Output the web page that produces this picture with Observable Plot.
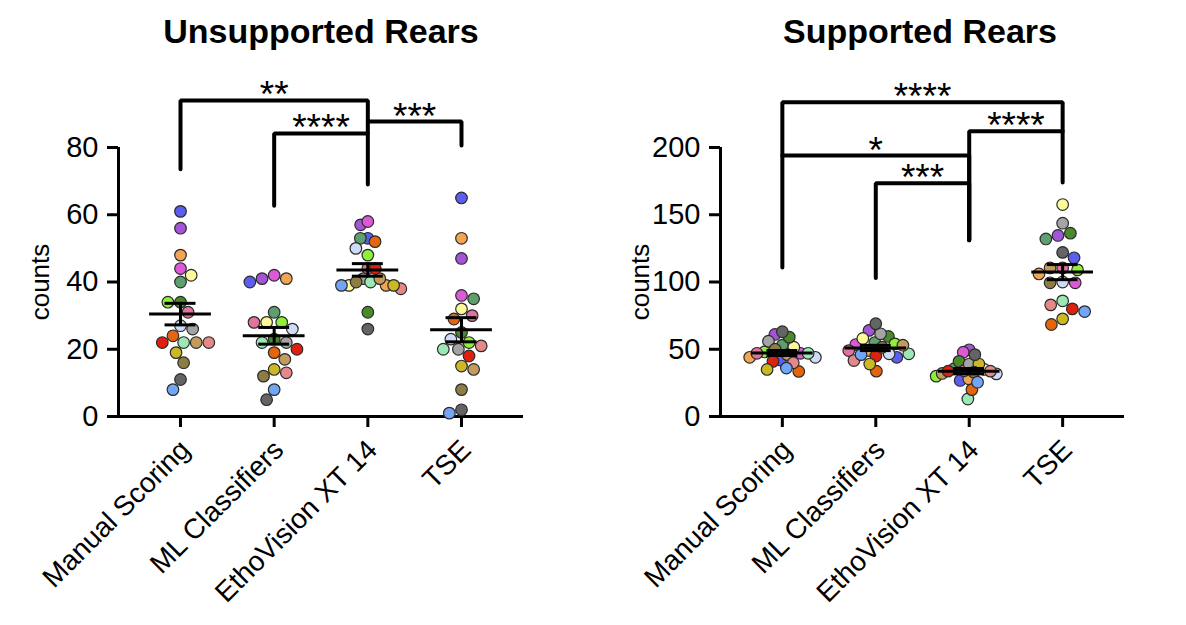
<!DOCTYPE html>
<html><head><meta charset="utf-8">
<script src="https://cdn.jsdelivr.net/npm/d3@7"></script>
<script src="https://cdn.jsdelivr.net/npm/@observablehq/plot@0.6"></script>
<style>
body{margin:0;background:#fff;font-family:"Liberation Sans",Arial,sans-serif;}
#wrap{position:relative;width:1186px;height:625px;overflow:hidden;background:#fff}
.title{position:absolute;top:11px;width:600px;text-align:center;font-weight:bold;font-size:34px;line-height:40px;color:#000}
.panel{position:absolute;top:60px}
</style></head><body>
<div id="wrap">
  <div class="title" style="left:21px">Unsupported Rears</div>
  <div class="title" style="left:620px">Supported Rears</div>
  <div class="panel" id="p1" style="left:0"></div>
  <div class="panel" id="p2" style="left:593px"></div>
</div>
<script>
// ---------- data ----------
const methods = ["Manual Scoring", "ML Classifiers", "EthoVision XT 14", "TSE"];
// one colour per animal (same order in every series)
const animalColors = ["#5b5ef0","#a455d6","#f2a552","#dc5ad8","#5f9e6e","#fdfa9a","#4b8a2b","#8ef03a","#e2739c","#cfdcf7",
                      "#a4a4a4","#9be8b5","#c39b5c","#e0200f","#e5650d","#e5888a","#cbb825","#8d7d45","#646464","#73a5f7"];

// Unsupported rears (counts)
const unsupManual = [61,56,48,44,40,42,34,34,31,27,26,22,22,22,24,22,19,16,11,8];
const unsupML     = [40,41,41,42,31,28,23,28,28,26,22,22,17,20,19,13,14,12,5,8];
const unsupEtho   = [53,57,39,58,53,39,31,48,44,50,41,40,41,44,52,38,39,40,26,39];
const unsupTSE    = [65,47,53,36,35,32,25,22,30,23,20,20,14,18,29,21,15,8,2,1];
const unsupTicks  = [0,20,40,60,80];

// Supported rears (counts)
const supManual = [42,61,44,47,53,51.5,59,48,47,44,56,47,46,41,33.5,40,35,50,63,36];
const supML     = [44,64,49,53.5,55,58,59.5,54,49,46.6,61.5,46.6,53,45,33.7,41.6,39,51.5,69,46];
const supEtho   = [26.8,49.6,28,47.8,35.5,35,41,30,34,31.7,39,13,32,33.7,20,33.7,39,33,46,25.5];
const supTSE    = [118,134.6,106,99.4,132,157.6,136.3,109,110.5,100,143.7,86,110.5,80,68.4,83,72.6,99.4,122,78];
const supTicks  = [0,50,100,150,200];

// significance brackets: from group, to group, bar level, leg ends, label
const unsupBrFrom  = [0,1,2];
const unsupBrTo    = [2,2,3];
const unsupBrLevel = [94,84.2,87.7];
const unsupBrFromEnd = [73.5,62.7,87.7];
const unsupBrToEnd   = [69,84.2,80.6];
const unsupBrLabel = ["**","****","***"];

const supBrFrom  = [0,2,0,1];
const supBrTo    = [3,3,2,2];
const supBrLevel = [233.7,212,194,173.5];
const supBrFromEnd = [110.8,131,194,103];
const supBrToEnd   = [174,212,131,131];
const supBrLabel = ["****","****","*","***"];

// ---------- layout ----------
const H = 565, MT = 87, MB = 209, W = 593;
const XDOM = [-0.662, 3.662];
const R = 5.8, MIN_D = 12.6, MAX_HALF = 33;

function swarm(values, pxPerY, pxPerX) {
  const order = d3.range(values.length).sort((a, b) => values[b] - values[a]);
  const placed = [], off = new Array(values.length);
  let flip = 1;
  for (const i of order) {
    const y = values[i] * pxPerY;
    const near = placed.filter(p => Math.abs(p.y - y) < MIN_D);
    const cands = [0];
    for (const p of near) {
      const dx = Math.sqrt(MIN_D * MIN_D - (p.y - y) ** 2);
      cands.push(p.x + dx, p.x - dx);
    }
    flip = -flip;
    cands.sort((a, b) => (Math.abs(a) - Math.abs(b)) || (flip * (a - b)));
    const x = cands.find(c => near.every(p => (p.x - c) ** 2 + (p.y - y) ** 2 >= MIN_D * MIN_D - 1e-6));
    placed.push({x, y});
    off[i] = x;
  }
  const mx = d3.max(off, Math.abs);
  const k = mx > MAX_HALF ? MAX_HALF / mx : 1;
  return off.map(o => o * k / pxPerX);
}

function panel({series, ticks, ymax, ml, mr, br, labelDx}) {
  const innerW = W - ml - mr, innerH = H - MT - MB;
  const pxX = innerW / (XDOM[1] - XDOM[0]), pxY = innerH / ymax;
  const pts = [], stats = [];
  series.forEach((vals, g) => {
    const off = swarm(vals, pxY, pxX);
    vals.forEach((v, k) => pts.push({g, x: g + off[k], v, color: animalColors[k]}));
    const m = d3.mean(vals), se = d3.deviation(vals) / Math.sqrt(vals.length);
    stats.push({g, m, lo: m - se, hi: m + se});
  });
  const path = [];
  br.from.forEach((a, k) => {
    const b = br.to[k];
    path.push({k, x: a, y: br.fromEnd[k]}, {k, x: a, y: br.level[k]},
              {k, x: b, y: br.level[k]}, {k, x: b, y: br.toEnd[k]});
  });
  const labels = br.from.map((a, k) => ({x: (a + br.to[k]) / 2, y: br.level[k], t: br.label[k]}));

  return Plot.plot({
    width: W, height: H,
    marginLeft: ml, marginRight: mr, marginTop: MT, marginBottom: MB,
    x: {domain: XDOM, axis: null},
    y: {domain: [0, ymax], axis: null},
    color: {type: "identity"},
    style: {fontFamily: "'Liberation Sans', Arial, sans-serif", color: "#000", background: "#fff", overflow: "visible"},
    marks: [
      Plot.axisY({ticks, tickSize: 11, tickPadding: 9, fontSize: 29, strokeWidth: 3, tickFormat: d => d}),
      Plot.axisX({ticks: [0,1,2,3], tickSize: 11, strokeWidth: 3, tickFormat: () => ""}),
      Plot.ruleY([0], {strokeWidth: 3}),
      Plot.ruleX([XDOM[0]], {y1: 0, y2: ymax, strokeWidth: 3}),
      Plot.text(methods, {x: (d, i) => i, frameAnchor: "bottom", rotate: -45, textAnchor: "end",
                          lineAnchor: "bottom", dx: 11, dy: 35, fontSize: 28}),
      Plot.text(["counts"], {frameAnchor: "left", rotate: -90, textAnchor: "middle", dx: labelDx, fontSize: 26}),
      Plot.dot(pts, {x: "x", y: "v", r: R, fill: "color", stroke: "#2b2b2b", strokeWidth: 1.2}),
      Plot.ruleY(stats, {x1: d => d.g - 0.33, x2: d => d.g + 0.33, y: "m", strokeWidth: 3}),
      Plot.ruleY(stats, {x1: d => d.g - 0.165, x2: d => d.g + 0.165, y: "lo", strokeWidth: 3}),
      Plot.ruleY(stats, {x1: d => d.g - 0.165, x2: d => d.g + 0.165, y: "hi", strokeWidth: 3}),
      Plot.ruleX(stats, {x: "g", y1: "lo", y2: "hi", strokeWidth: 3}),
      Plot.line(path, {x: "x", y: "y", z: "k", stroke: "#000", strokeWidth: 4, strokeLinejoin: "miter"}),
      Plot.text(labels, {x: "x", y: "y", text: "t", lineAnchor: "bottom", dy: 7, fontSize: 37})
    ]
  });
}

document.getElementById("p1").append(panel({
  series: [unsupManual, unsupML, unsupEtho, unsupTSE], ticks: unsupTicks, ymax: 80,
  ml: 118, mr: 70, labelDx: -78,
  br: {from: unsupBrFrom, to: unsupBrTo, level: unsupBrLevel, fromEnd: unsupBrFromEnd, toEnd: unsupBrToEnd, label: unsupBrLabel}
}));
document.getElementById("p2").append(panel({
  series: [supManual, supML, supEtho, supTSE], ticks: supTicks, ymax: 200,
  ml: 127, mr: 62, labelDx: -80,
  br: {from: supBrFrom, to: supBrTo, level: supBrLevel, fromEnd: supBrFromEnd, toEnd: supBrToEnd, label: supBrLabel}
}));
</script>
</body></html>
